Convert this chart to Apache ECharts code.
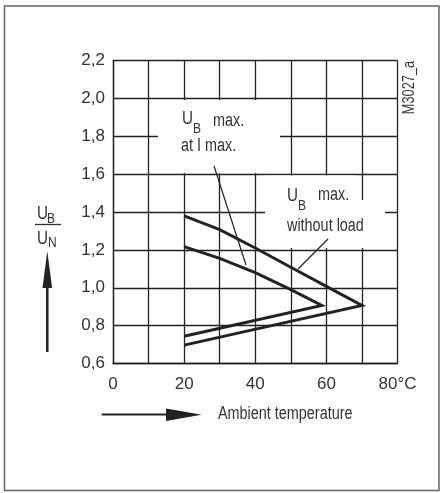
<!DOCTYPE html>
<html><head><meta charset="utf-8">
<script src="https://cdn.jsdelivr.net/npm/echarts@6/dist/echarts.min.js"></script>
<style>html,body{margin:0;padding:0;background:#fff}#c{width:444px;height:493px}</style>
</head><body><div id="c"></div>
<script>
// Data
const xTicks = [0, 20, 40, 60, 80];
const yTicks = [0.6, 0.8, 1.0, 1.2, 1.4, 1.6, 1.8, 2.0, 2.2];
// U_B max. at I max. (inner loop): upper branch then lower branch back to 20 °C
const tempAtImax = [20, 30, 40, 50, 58.7, 20];
const ratioAtImax = [1.217, 1.155, 1.08, 0.99, 0.907, 0.744];
// U_B max. without load (outer loop)
const tempNoLoad = [20, 30, 40, 50, 60, 70, 20];
const ratioNoLoad = [1.38, 1.307, 1.21, 1.108, 1.007, 0.907, 0.697];

const FONT = "'Liberation Sans',Arial,sans-serif";
const INK = '#222';
const TXT = '#333';
const SX = 0.8;

const chart = echarts.init(document.getElementById('c'), null, {renderer: 'canvas'});
const pair = (xs, ys) => xs.map((x, i) => [x, ys[i]]);

function t(x, y, s, size, extra) {
  return Object.assign({type: 'text', x: x, y: y, z: 50, scaleX: SX,
    style: {text: s, fill: TXT, font: size + 'px ' + FONT, textAlign: 'left', textVerticalAlign: 'middle'}}, extra || {});
}

chart.setOption({
  animation: false,
  backgroundColor: '#fff',
  grid: {left: 113, top: 60.5, width: 284.5, height: 303, containLabel: false},
  xAxis: {
    type: 'value', min: 0, max: 80, interval: 10,
    axisLine: {show: true, lineStyle: {color: INK, width: 1.3}},
    axisTick: {show: false},
    splitLine: {show: true, lineStyle: {color: INK, width: 1.3}},
    axisLabel: {
      margin: 12, color: TXT, fontFamily: FONT, fontSize: 17,
      formatter: v => xTicks.indexOf(v) < 0 ? '' : (v === 80 ? '80°C' : String(v))
    }
  },
  yAxis: {
    type: 'value', min: 0.6, max: 2.2, interval: 0.2,
    axisLine: {show: true, lineStyle: {color: INK, width: 1.3}},
    axisTick: {show: false},
    splitLine: {show: true, lineStyle: {color: INK, width: 1.3}},
    axisLabel: {
      margin: 8, color: TXT, fontFamily: FONT, fontSize: 17,
      formatter: v => v.toFixed(1).replace('.', ',')
    }
  },
  series: [
    {type: 'line', data: pair(tempAtImax, ratioAtImax), symbol: 'none', z: 20,
     lineStyle: {color: INK, width: 3, join: 'miter'}},
    {type: 'line', data: pair(tempNoLoad, ratioNoLoad), symbol: 'none', z: 20,
     lineStyle: {color: INK, width: 3, join: 'miter'}}
  ],
  graphic: [
    // outer frame
    {type: 'rect', shape: {x: 4.5, y: 6, width: 434.5, height: 484.5}, z: 1,
     style: {fill: 'none', stroke: '#666', lineWidth: 1.5}},
    // white boxes behind annotation text
    {type: 'rect', shape: {x: 158, y: 100, width: 122, height: 73}, z: 40, style: {fill: '#fff'}},
    {type: 'rect', shape: {x: 265, y: 175.5, width: 90, height: 40}, z: 40, style: {fill: '#fff'}},
    {type: 'rect', shape: {x: 265, y: 200, width: 120, height: 48}, z: 40, style: {fill: '#fff'}},
    // annotation 1
    t(182, 119, 'U', 19), t(193, 128.5, 'B', 15), t(213, 121, 'max.', 18),
    t(181, 146.5, 'at I max.', 18),
    {type: 'line', z: 45, shape: {x1: 214, y1: 166, x2: 246, y2: 265}, style: {stroke: INK, lineWidth: 1.2}},
    // annotation 2
    t(287, 195.5, 'U', 19), t(298, 205.5, 'B', 15), t(318, 195.5, 'max.', 18),
    t(287, 226, 'without load', 18),
    {type: 'line', z: 45, shape: {x1: 328, y1: 239, x2: 298, y2: 269}, style: {stroke: INK, lineWidth: 1.2}},
    // y axis name U_B / U_N
    t(37, 213.5, 'U', 19), t(47, 218.5, 'B', 15),
    {type: 'line', z: 45, shape: {x1: 35, y1: 224.5, x2: 61, y2: 224.5}, style: {stroke: TXT, lineWidth: 1.3}},
    t(37, 238.5, 'U', 19), t(48, 243, 'N', 15),
    // vertical arrow
    {type: 'line', z: 45, shape: {x1: 47.3, y1: 352, x2: 47.3, y2: 285}, style: {stroke: INK, lineWidth: 2.5}},
    {type: 'polygon', z: 45, shape: {points: [[47.3, 251], [42.5, 288], [52.1, 288]]}, style: {fill: INK}},
    // horizontal arrow
    {type: 'line', z: 45, shape: {x1: 101.7, y1: 414.5, x2: 168, y2: 414.5}, style: {stroke: INK, lineWidth: 2}},
    {type: 'polygon', z: 45, shape: {points: [[201.7, 414.8], [166, 408.5], [166, 421]]}, style: {fill: INK}},
    t(218, 414.5, 'Ambient temperature', 18),
    // drawing id
    {type: 'text', x: 409.5, y: 87.5, rotation: Math.PI / 2, scaleX: SX, z: 50,
     style: {text: 'M3027_a', fill: TXT, font: '16px ' + FONT, textAlign: 'center', textVerticalAlign: 'middle'}}
  ]
});
</script></body></html>
